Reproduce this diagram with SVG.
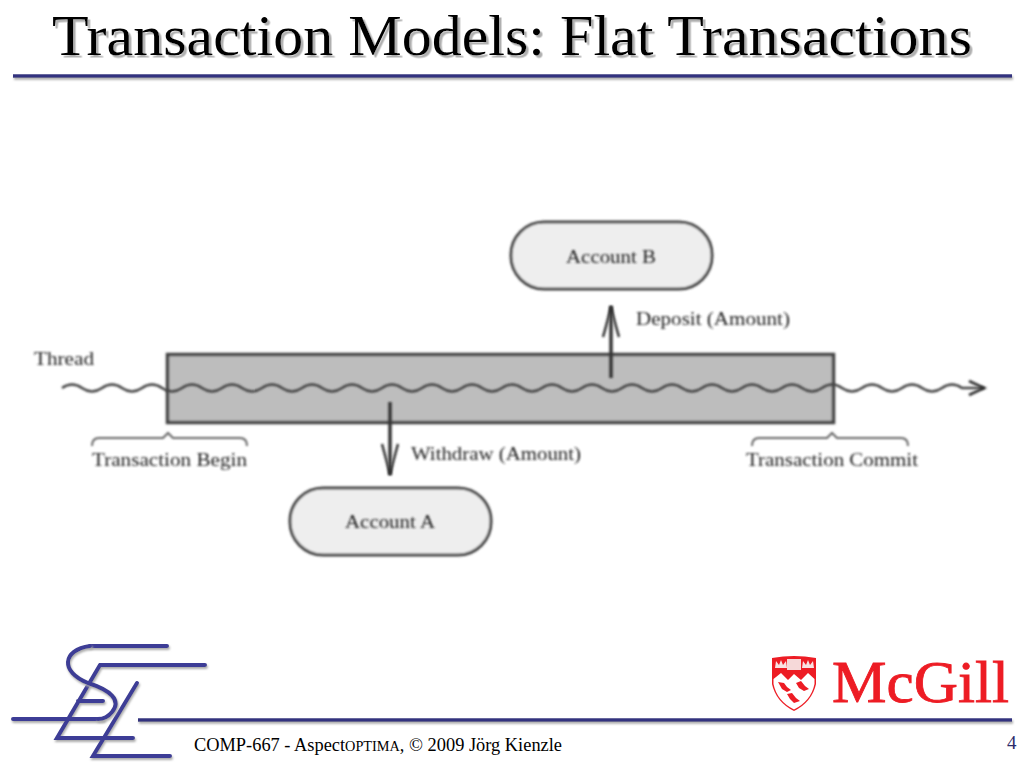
<svg xmlns="http://www.w3.org/2000/svg" width="1024" height="768" viewBox="0 0 1024 768">
<style>
text{font-family:"Liberation Serif","Times New Roman",serif}
.t{font-size:18.5px;fill:#222;filter:url(#soft)}
.rule{stroke:#33337f;stroke-width:3.5;fill:none;filter:url(#ruleShadow)}
.logo{stroke:#3d3d96;stroke-width:4;fill:none;stroke-linecap:round;filter:url(#ruleShadow)}
.acct{fill:#eeeeee;stroke:#444;stroke-width:3;filter:url(#soft)}
.conn{fill:none;stroke:#333;stroke-width:3.500;filter:url(#softLine)}
.brace{fill:none;stroke:#666;stroke-width:2;filter:url(#soft)}
.bird{fill:#ed1c24}
</style>
<defs>
<filter id="soft" x="-10%" y="-30%" width="120%" height="160%"><feGaussianBlur stdDeviation="0.85"/></filter>
<filter id="softLine" filterUnits="userSpaceOnUse" x="0" y="290" width="1024" height="200"><feGaussianBlur stdDeviation="0.8"/></filter>
<filter id="titleShadow" x="-2%" y="-20%" width="104%" height="140%"><feDropShadow dx="2.5" dy="2.5" stdDeviation="0.6" flood-color="#b0b0b0"/></filter>
<filter id="ruleShadow" filterUnits="userSpaceOnUse" x="0" y="0" width="1024" height="768"><feDropShadow dx="1" dy="2" stdDeviation="0.8" flood-color="#aaa"/></filter>
</defs>
<rect width="1024" height="768" fill="#fff"/>
<g id="title"><text x="52" y="55" font-size="56" textLength="920" lengthAdjust="spacingAndGlyphs" fill="#000" filter="url(#titleShadow)">Transaction Models: Flat Transactions</text>
<line class="rule" x1="13" y1="76" x2="1012" y2="76"/></g>
<g id="transaction"><rect x="167.500" y="354.500" width="666" height="68" fill="#bdbdbd" stroke="#444" stroke-width="3.500" filter="url(#softLine)"/></g>
<g id="connectors">
<path class="conn" style="stroke-width:2.400;stroke:#444" d="M62 388q10-7 20 0t20 0t20 0t20 0t20 0t20 0t20 0t20 0t20 0t20 0t20 0t20 0t20 0t20 0t20 0t20 0t20 0t20 0t20 0t20 0t20 0t20 0t20 0t20 0t20 0t20 0t20 0t20 0t20 0t20 0t20 0t20 0t20 0t20 0t20 0t20 0t20 0t20 0t20 0t20 0t20 0t20 0t20 0t20 0t20 0L984 388"/>
<path class="conn" style="stroke-width:2.800" d="M969 381L984 388L969 395"/>
<path class="conn" d="M611 378V306"/>
<path class="conn" style="stroke-width:2.500" d="M603 337Q608 320 611 306Q614 320 619 337"/>
<path class="conn" d="M390 402V475"/>
<path class="conn" style="stroke-width:2.500" d="M382 444Q387 462 390 475Q393 462 398 444"/>
</g>
<g id="account-b"><rect class="acct" x="511" y="222" width="201" height="67" rx="33" ry="33"/><text class="t" x="566" y="263" textLength="90" lengthAdjust="spacingAndGlyphs">Account B</text></g>
<g id="account-a"><rect class="acct" x="290" y="488" width="201" height="67" rx="33" ry="33"/><text class="t" x="345" y="528" textLength="90" lengthAdjust="spacingAndGlyphs">Account A</text></g>
<g id="labels">
<text class="t" x="34" y="365" textLength="60" lengthAdjust="spacingAndGlyphs">Thread</text>
<text class="t" x="636" y="325" textLength="154" lengthAdjust="spacingAndGlyphs">Deposit (Amount)</text>
<text class="t" x="411" y="460" textLength="170" lengthAdjust="spacingAndGlyphs">Withdraw (Amount)</text>
<text class="t" x="92" y="466" textLength="155" lengthAdjust="spacingAndGlyphs">Transaction Begin</text>
<text class="t" x="746" y="466" textLength="172" lengthAdjust="spacingAndGlyphs">Transaction Commit</text>
</g>
<g id="braces">
<path class="brace" d="M92 446Q92 438 99 438H163L168 433L173 438H240Q247 438 247 446"/>
<path class="brace" d="M752 446Q752 438 759 438H827L832 433L837 438H901Q908 438 908 446"/>
</g>
<g id="logo-sel">
<path class="logo" d="M90 646H167M100 665H205M100 665L57 738H133M137 683L93 756H170M78 701H103M13 719H103"/>
<path class="logo" d="M90 646C62 650 60 672 88 683C110 690 122 700 112 712C108 717 103 719 98 719"/>
</g>
<g id="logo-mcgill">
<path fill="#ed1c24" d="M772 658Q794 654 816 658L816 684Q812 702 794 711Q776 702 772 684Z"/>
<path fill="#fff" d="M773.500 679L781 673L788 680L794 674L801 680L808 673L814.500 679L814.500 684Q811 701 794 709.500Q777 701 773.500 684Z"/>
<rect x="787" y="659" width="14" height="11" fill="#f6d9d9"/>
<path fill="#f9e3e3" d="M775 668L776 661L779 665L781 660L783 665L786 661L787 668ZM802 668L803 661L806 665L808 660L810 665L813 661L814 668Z"/>
<path class="bird" d="M778 682L784 683L787 687L791 690L787 692L782 689Z"/>
<path class="bird" d="M796 683L801 681L805 686L809 689L804 691L799 688Z"/>
<path class="bird" d="M787 694L792 693L796 698L800 701L794 703L790 699Z"/>
<text x="832" y="702" font-size="60" fill="#ed1c24" stroke="#ed1c24" stroke-width="0.8" textLength="177" lengthAdjust="spacingAndGlyphs">McGill</text>
</g>
<g id="footer">
<line class="rule" x1="138" y1="720" x2="1012" y2="720"/>
<text x="194" y="751" font-size="18" fill="#000" textLength="368" lengthAdjust="spacingAndGlyphs">COMP-667 - Aspect<tspan font-size="14">OPTIMA</tspan>, © 2009 Jörg Kienzle</text>
<text x="1007" y="749" font-size="19" fill="#2b2b6b">4</text>
</g>
</svg>
